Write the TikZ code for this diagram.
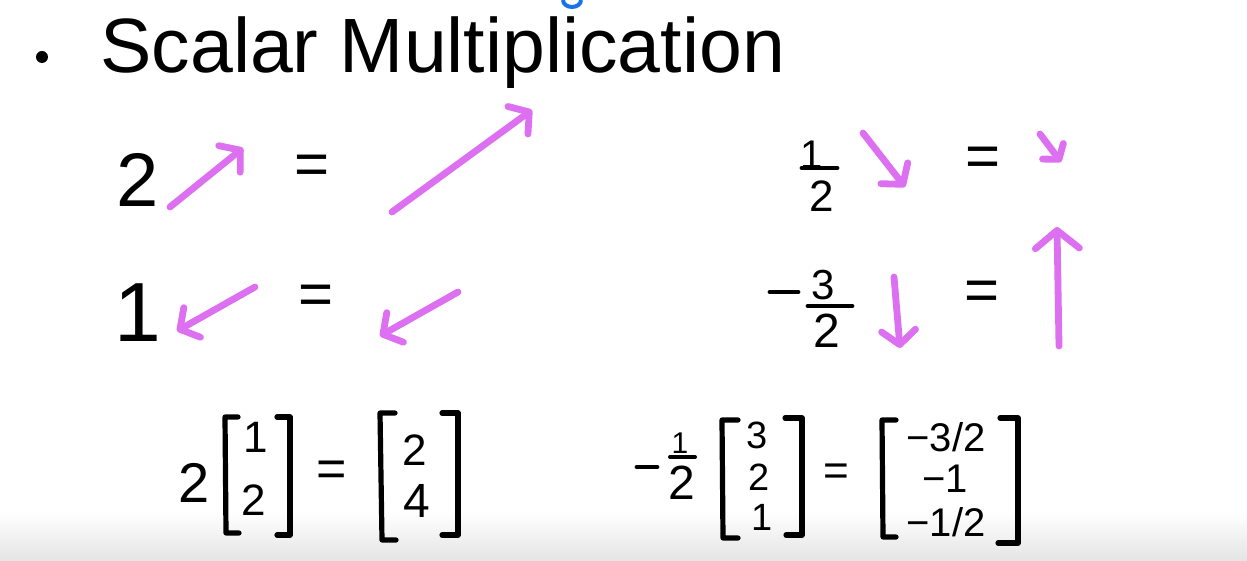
\documentclass[tikz,border=0pt]{standalone}
\usepackage{fontspec}
\setmainfont{Liberation Sans}
\usetikzlibrary{arrows.meta}
\definecolor{pinkarrow}{RGB}{221,112,240}
\definecolor{bandgray}{RGB}{228,228,228}
\definecolor{blueink}{RGB}{25,115,232}
\begin{document}
\begin{tikzpicture}[x=0.5pt,y=-0.5pt,
  big/.style={inner sep=0pt, font=\fontsize{38}{40}\selectfont},
  small/.style={inner sep=0pt, font=\fontsize{19}{20}\selectfont},
  vecent/.style={inner sep=0pt, font=\fontsize{22}{24}\selectfont},
  vecthree/.style={inner sep=0pt, font=\fontsize{19}{20}\selectfont},
  eqsign/.style={inner sep=0pt, font=\fontsize{30}{32}\selectfont},
  fracbar/.style={line width=2.4pt, line cap=round},
  brk/.style={line width=2.6pt, line cap=round, line join=round},
  vecarrow/.style={draw=pinkarrow, line width=3.4pt, line cap=round,
    -{Straight Barb[length=7pt,width=17pt,round]}},
  bigarrow/.style={vecarrow, -{Straight Barb[length=9pt,width=22pt,round]}}]
\useasboundingbox (0,0) rectangle (1247,561);
\fill[white] (0,0) rectangle (1247,561);
\shade[top color=white, bottom color=bandgray] (0,512) rectangle (1247,561);
% blue fragment at top edge
\draw[blueink, line width=2pt] (563,0) arc[start angle=180, end angle=360, x radius=9, y radius=-7];
% title
\node[circle, fill=black, inner sep=0pt, minimum size=6pt] (bullet) at (42,57) {};
\node[anchor=base west, inner sep=0pt, font=\fontsize{38.5}{40}\selectfont] (title) at (100,73) {Scalar Multiplication};

% left block, row 1
\node[big] (s2) at (138,180) {2};
\coordinate (a1s) at (170,207); \coordinate (a1e) at (243,148);
\draw[vecarrow] (a1s) -- (a1e);
\node[eqsign] (eq1) at (312,170) {=};
\coordinate (a2s) at (392,212); \coordinate (a2e) at (532,110);
\draw[vecarrow] (a2s) -- (a2e);
% left block, row 2
\node[big, font=\fontsize{42}{44}\selectfont] (s1) at (138,313) {1};
\coordinate (a3s) at (255,287); \coordinate (a3e) at (177,331);
\draw[vecarrow] (a3s) -- (a3e);
\node[eqsign] (eq2) at (316,300) {=};
\coordinate (a4s) at (458,292); \coordinate (a4e) at (380,336);
\draw[vecarrow] (a4s) -- (a4e);

% right block, row 1 : 1/2
\node[small, font=\fontsize{20}{22}\selectfont] (h1) at (812,155) {1};
\coordinate (hb1) at (802,168); \coordinate (hb2) at (837,168);
\draw[fracbar] (hb1) -- (hb2);
\node[small, font=\fontsize{22}{24}\selectfont] (h2) at (822,196) {2};
\coordinate (a5s) at (863,133); \coordinate (a5e) at (905,187);
\draw[vecarrow] (a5s) -- (a5e);
\node[eqsign] (eq3) at (983,162) {=};
\coordinate (a6s) at (1040,134); \coordinate (a6e) at (1061,162);
\draw[vecarrow, -{Straight Barb[length=5pt,width=13pt,round]}] (a6s) -- (a6e);
% right block, row 2 : -3/2
\coordinate (m1) at (770,292); \coordinate (m2) at (798,292);
\draw[fracbar] (m1) -- (m2);
\node[small, font=\fontsize{21}{22}\selectfont] (t3) at (823,285) {3};
\coordinate (tb1) at (808,306); \coordinate (tb2) at (852,306);
\draw[fracbar] (tb1) -- (tb2);
\node[small, font=\fontsize{24}{26}\selectfont] (t2) at (827,331) {2};
\coordinate (a7s) at (894,277); \coordinate (a7e) at (900,348);
\draw[vecarrow] (a7s) -- (a7e);
\node[eqsign] (eq4) at (982,296) {=};
\coordinate (a8s) at (1059,346); \coordinate (a8e) at (1057,227);
\draw[bigarrow] (a8s) -- (a8e);

% bottom left: 2 [1;2] = [2;4]
\node[vecent, font=\fontsize{28}{30}\selectfont] (b2) at (194,483) {2};
\draw[brk] (238,417) -- (225,417) -- (226,533) -- (239,533);
\node[vecent] (v11) at (256,437) {1};
\node[vecent] (v12) at (254,500) {2};
\draw[brk] (277,417) -- (290,417) -- (290,535) -- (277,535);
\node[eqsign, font=\fontsize{26}{28}\selectfont] (eq5) at (332,474) {=};
\draw[brk] (395,413) -- (380,413) -- (382,540) -- (396,540);
\node[vecent] (v21) at (415,450) {2};
\node[vecent, font=\fontsize{24}{26}\selectfont] (v22) at (417,501) {4};
\draw[brk] (442,413) -- (458,413) -- (458,535) -- (442,535);

% bottom right: -1/2 [3;2;1] = [-3/2;-1;-1/2]
\coordinate (n1) at (637,467); \coordinate (n2) at (657,467);
\draw[fracbar] (n1) -- (n2);
\node[inner sep=0pt, font=\fontsize{15}{16}\selectfont] (q1) at (680,443) {1};
\coordinate (qb1) at (670,457); \coordinate (qb2) at (695,457);
\draw[fracbar, line width=2pt] (qb1) -- (qb2);
\node[vecent, font=\fontsize{24}{26}\selectfont] (q2) at (682,483) {2};
\draw[brk] (738,420) -- (722,420) -- (723,538) -- (738,538);
\node[vecthree] (w1) at (757,435) {3};
\node[vecthree] (w2) at (759,477) {2};
\node[vecthree] (w3) at (762,517) {1};
\draw[brk] (785,418) -- (802,418) -- (802,535) -- (786,535);
\node[eqsign, font=\fontsize{22}{24}\selectfont] (eq6) at (836,475) {=};
\draw[brk] (896,420) -- (882,420) -- (883,537) -- (896,537);
\node[vecthree, font=\fontsize{20}{22}\selectfont] (r1) at (946,437) {−3/2};
\node[vecthree, font=\fontsize{20}{22}\selectfont] (r2) at (945,479) {−1};
\node[vecthree, font=\fontsize{20}{22}\selectfont] (r3) at (946,522) {−1/2};
\draw[brk] (1000,418) -- (1018,418) -- (1018,543) -- (998,543);
\end{tikzpicture}
\end{document}
